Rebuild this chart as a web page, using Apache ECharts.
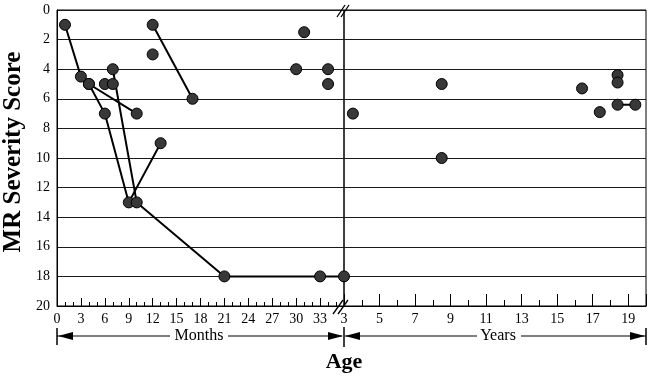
<!DOCTYPE html>
<html>
<head>
<meta charset="utf-8">
<script src="https://cdn.jsdelivr.net/npm/echarts@6/dist/echarts.min.js"></script>
<style>html,body{margin:0;padding:0;background:#fff;}#c{width:650px;height:380px;}</style>
</head>
<body>
<div id="c"></div>
<script>
// ---- data (age in months for the left panel, years for the right panel; MR severity score) ----
const pathA_months = [1, 3, 4, 6, 9, 13];
const pathA_scores = [1, 4.5, 5, 7, 13, 9];
const pathB_months = [4, 10];
const pathB_scores = [5, 7];
const pathC_months = [7, 10, 21, 33, 36];
const pathC_scores = [4, 13, 18, 18, 18];
const pathD_months = [12, 17];
const pathD_scores = [1, 6];
const singleMonths = [6, 7, 12, 30, 31, 34, 34];
const singleMonthScores = [5, 5, 3, 4, 1.5, 4, 5];
const pathE_years = [18.4, 19.4];
const pathE_scores = [6.4, 6.4];
const singleYears = [3.5, 8.5, 8.5, 16.4, 17.4, 18.4, 18.4];
const singleYearScores = [7, 5, 10, 5.3, 6.9, 4.4, 4.9];

const monthRange = [0, 36];
const yearRange = [3, 20];
const scoreRange = [0, 20];
const texts = { yName: 'MR Severity Score', months: 'Months', years: 'Years', age: 'Age' };

// ---- layout ----
const FONT = '"Liberation Serif", "DejaVu Serif", serif';
const GL = 57, GT = 10, GW0 = 287, GW1 = 302, GH = 296;
const BX = GL + GW0, RX = BX + GW1, BY = GT + GH;
const AY = 336;

const zip = (a, b) => a.map((v, i) => [v, b[i]]);
const dot = { color: '#383838', borderColor: '#000', borderWidth: 1, opacity: 1 };
function lineSeries(xs, ys, idx) {
  return { type: 'line', xAxisIndex: idx, yAxisIndex: idx, data: zip(xs, ys), symbol: 'circle', symbolSize: 11,
    itemStyle: dot, lineStyle: { color: '#000', width: 2 }, clip: false, z: 3, animation: false };
}
function dotSeries(xs, ys, idx) {
  return { type: 'scatter', xAxisIndex: idx, yAxisIndex: idx, data: zip(xs, ys), symbol: 'circle', symbolSize: 11,
    itemStyle: dot, clip: false, z: 4, animation: false };
}
const lbl = { color: '#000', fontFamily: FONT, fontSize: 14 };
const split = { show: true, lineStyle: { color: '#1a1a1a', width: 1 } };

const chart = echarts.init(document.getElementById('c'), null, { renderer: 'canvas' });
const L = (x1, y1, x2, y2, w) => ({ type: 'line', shape: { x1, y1, x2, y2 }, style: { stroke: '#000', lineWidth: w || 1.2 }, z: 10 });
const P = pts => ({ type: 'polygon', shape: { points: pts }, style: { fill: '#000' }, z: 10 });
chart.setOption({
  animation: false,
  backgroundColor: '#fff',
  grid: [
    { left: GL, top: GT, width: GW0, height: GH, show: true, borderColor: '#000', borderWidth: 1 },
    { left: BX, top: GT, width: GW1, height: GH, show: true, borderColor: '#000', borderWidth: 1 }
  ],
  xAxis: [
    { type: 'value', gridIndex: 0, position: 'bottom', min: monthRange[0], max: monthRange[1], interval: 3,
      axisLine: { onZero: false, lineStyle: { color: '#000' } },
      axisTick: { inside: true, length: 8, lineStyle: { color: '#000' } },
      minorTick: { show: true, splitNumber: 3, length: 4, lineStyle: { color: '#000' } },
      axisLabel: Object.assign({ margin: 6, showMaxLabel: false }, lbl), splitLine: { show: false } },
    { type: 'value', gridIndex: 1, position: 'bottom', min: yearRange[0], max: yearRange[1], interval: 2,
      axisLine: { onZero: false, lineStyle: { color: '#000' } },
      axisTick: { inside: true, length: 12, lineStyle: { color: '#000' } },
      minorTick: { show: true, splitNumber: 2, length: 6, lineStyle: { color: '#000' } },
      axisLabel: Object.assign({ margin: 6, showMaxLabel: false }, lbl), splitLine: { show: false } }
  ],
  yAxis: [
    { type: 'value', gridIndex: 0, inverse: true, min: scoreRange[0], max: scoreRange[1], interval: 2,
      axisLine: { show: true, onZero: false, lineStyle: { color: '#000' } }, axisTick: { show: false },
      axisLabel: Object.assign({ margin: 7 }, lbl), splitLine: split },
    { type: 'value', gridIndex: 1, inverse: true, min: scoreRange[0], max: scoreRange[1], interval: 2,
      axisLine: { show: false, onZero: false }, axisTick: { show: false }, axisLabel: { show: false }, splitLine: split }
  ],
  series: [
    lineSeries(pathA_months, pathA_scores, 0),
    lineSeries(pathB_months, pathB_scores, 0),
    lineSeries(pathC_months, pathC_scores, 0),
    lineSeries(pathD_months, pathD_scores, 0),
    dotSeries(singleMonths, singleMonthScores, 0),
    lineSeries(pathE_years, pathE_scores, 1),
    dotSeries(singleYears, singleYearScores, 1)
  ],
  graphic: [
    // break marks
    L(BX - 7, GT + 7, BX + 1, GT - 5, 1.3), L(BX - 3, GT + 7, BX + 5, GT - 5, 1.3),
    L(BX - 11, BY + 8, BX - 1, BY - 6, 1.3), L(BX - 6, BY + 8, BX + 4, BY - 6, 1.3),
    // months arrow
    L(GL, AY - 8, GL, AY + 9, 1.5), L(GL, AY, 170, AY), L(228, AY, BX - 2, AY),
    P([[GL + 1, AY], [GL + 16, AY - 4], [GL + 16, AY + 4]]),
    P([[BX - 1, AY], [BX - 16, AY - 4], [BX - 16, AY + 4]]),
    L(BX, AY - 9, BX, AY + 11, 1.5),
    // years arrow
    L(BX + 1, AY, 477, AY), L(521, AY, RX, AY),
    P([[BX + 1, AY], [BX + 16, AY - 4], [BX + 16, AY + 4]]),
    P([[RX - 1, AY], [RX - 16, AY - 4], [RX - 16, AY + 4]]),
    L(RX, AY - 8, RX, AY + 9, 1.5),
    { type: 'text', x: 199, y: AY, z: 11, style: { text: texts.months, fill: '#000', font: '16px ' + FONT, textAlign: 'center', textVerticalAlign: 'middle' } },
    { type: 'text', x: 498, y: AY, z: 11, style: { text: texts.years, fill: '#000', font: '16px ' + FONT, textAlign: 'center', textVerticalAlign: 'middle' } },
    { type: 'text', x: BX, y: 362, z: 11, style: { text: texts.age, fill: '#000', font: 'bold 22px ' + FONT, textAlign: 'center', textVerticalAlign: 'middle' } },
    { type: 'text', x: 14, y: 152, rotation: Math.PI / 2, z: 11, style: { text: texts.yName, fill: '#000', font: 'bold 25px ' + FONT, textAlign: 'center', textVerticalAlign: 'middle' } }
  ]
});
</script>
</body>
</html>
